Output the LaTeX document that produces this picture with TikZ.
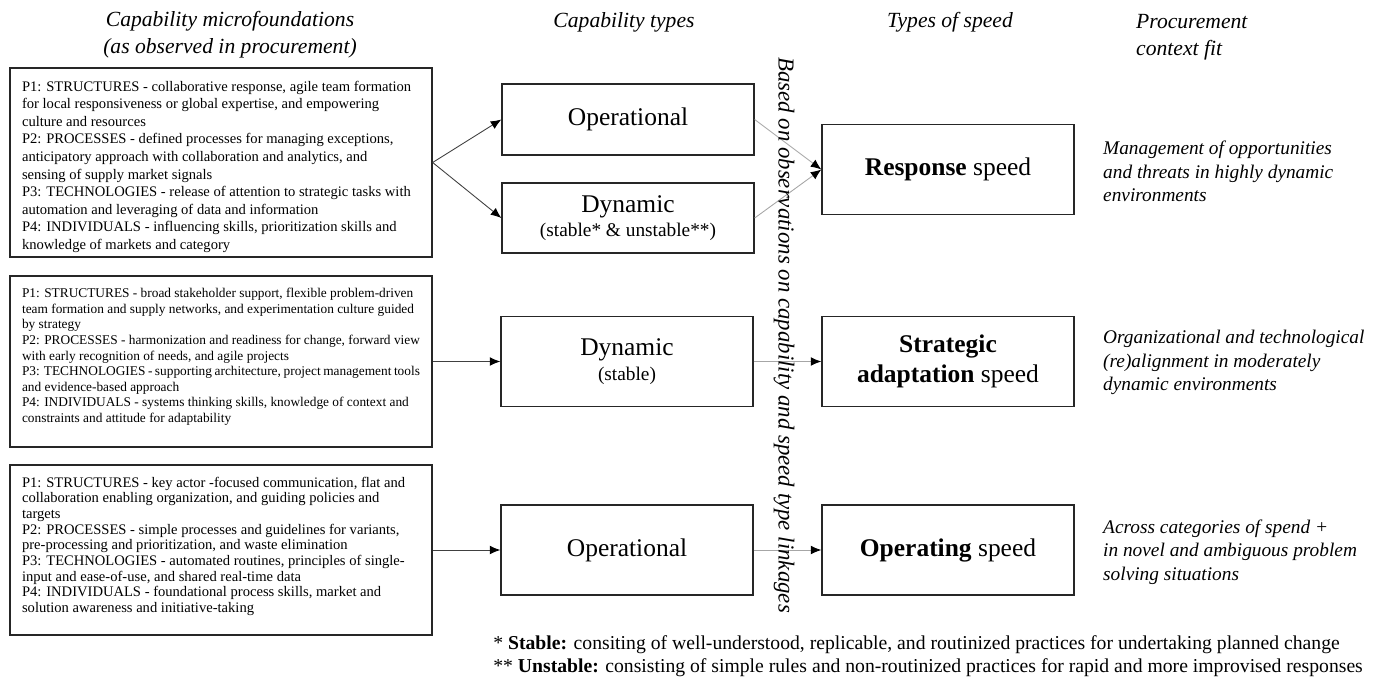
\documentclass[tikz,border=0pt]{standalone}
\usepackage{fontspec}
\setmainfont{Liberation Serif}
\usetikzlibrary{arrows.meta}

\tikzset{
caja/.style={draw=black!85,line width=0.8pt,minimum width=5.04cm,minimum height=1.8cm,align=center,font=\fontsize{14.5}{17}\selectfont},
marco/.style={draw=black!85,line width=0.8pt,inner xsep=0.24cm,inner ysep=0.16cm},
titulo/.style={font=\fontsize{12.3}{15.5}\selectfont\itshape,align=center},
contexto/.style={font=\fontsize{11}{13.3}\selectfont\itshape,align=left,anchor=west},
flecha/.style={draw=black!75,line width=0.5pt,-{Latex[length=6pt,width=5pt,color=black]}},
flechagris/.style={draw=black!35,line width=0.5pt,-{Latex[length=6pt,width=5pt,color=black]}},
nota/.style={font=\fontsize{11.2}{13}\selectfont,anchor=west,inner sep=0pt}
}

\begin{document}
\begin{tikzpicture}[x=0.02cm,y=-0.02cm]
    \useasboundingbox (0,0) rectangle (1387,680);

    \node[titulo] (tmicro) at (230,35) {Capability microfoundations\\(as observed in procurement)};
    \node[titulo] (ttipos) at (624,22) {Capability types};
    \node[titulo] (tvel) at (950,22) {Types of speed};
    \node[titulo,align=left,anchor=west] (tcont) at (1130,37) {Procurement\\context fit};

    \node[marco] (mf1) at (221,162.5) {\parbox[c][3.46cm][t]{7.96cm}{\fontsize{8.3}{10}\selectfont\vspace*{2.8pt}
    P1: STRUCTURES - collaborative response, agile team formation\\
    for local responsiveness or global expertise, and empowering\\
    culture and resources\\
    P2: PROCESSES - defined processes for managing exceptions,\\
    anticipatory approach with collaboration and analytics, and\\
    sensing of supply market signals\\
    P3: TECHNOLOGIES - release of attention to strategic tasks with\\
    automation and leveraging of data and information\\
    P4: INDIVIDUALS - influencing skills, prioritization skills and\\
    knowledge of markets and category}};
    \node[marco] (mf2) at (221,361.5) {\parbox[c][3.1cm][t]{7.96cm}{\fontsize{7.6}{8.9}\selectfont\vspace*{2.3pt}
    P1: STRUCTURES - broad stakeholder support, flexible problem-driven\\
    team formation and supply networks, and experimentation culture guided\\
    by strategy\\
    P2: PROCESSES - harmonization and readiness for change, forward view\\
    with early recognition of needs, and agile projects\\
    P3: TECHNOLOGIES - supporting architecture, project management tools\\
    and evidence-based approach\\
    P4: INDIVIDUALS - systems thinking skills, knowledge of context and\\
    constraints and attitude for adaptability}};
    \node[marco] (mf3) at (221,550) {\parbox[c][3.08cm][t]{7.96cm}{\fontsize{8.3}{8.9}\selectfont\vspace*{2.3pt}
    P1: STRUCTURES - key actor -focused communication, flat and\\
    collaboration enabling organization, and guiding policies and\\
    targets\\
    P2: PROCESSES - simple processes and guidelines for variants,\\
    pre-processing and prioritization, and waste elimination\\
    P3: TECHNOLOGIES - automated routines, principles of single-\\
    input and ease-of-use, and shared real-time data\\
    P4: INDIVIDUALS - foundational process skills, market and\\
    solution awareness and initiative-taking}};

    \node[caja,minimum height=1.42cm] (op1) at (628,119.5) {Operational};
    \node[caja,minimum height=1.4cm] (dyn1) at (628,218) {Dynamic\\[-3pt]{\fontsize{11}{13}\selectfont(stable* \& unstable**)}};
    \node[caja] (dyn2) at (627,361.5) {Dynamic\\[-3pt]{\fontsize{11}{13}\selectfont(stable)}};
    \node[caja] (op2) at (627,550) {Operational};

    \node[caja] (resp) at (948,169.5) {\textbf{Response} speed};
    \node[caja] (strat) at (948,361.5) {\textbf{Strategic}\\\textbf{adaptation} speed};
    \node[caja] (oper) at (948,550) {\textbf{Operating} speed};

    \node[contexto] (ctx1) at (1097,171.5) {Management of opportunities\\and threats in highly dynamic\\environments};
    \node[contexto] (ctx2) at (1097,362.5) {Organizational and technological\\(re)alignment in moderately\\dynamic environments};
    \node[contexto] (ctx3) at (1097,552) {Across categories of spend +\\in novel and ambiguous problem\\solving situations};

    \draw[flecha] (mf1.east) -- (op1.west);
    \draw[flecha] (mf1.east) -- (dyn1.west);
    \draw[flecha] (mf2.east) -- (dyn2.west);
    \draw[flecha] (mf3.east) -- (op2.west);
    \draw[flechagris] (op1.east) -- (resp.west);
    \draw[flechagris] (dyn1.east) -- (resp.west);
    \draw[flechagris] (dyn2.east) -- (strat.west);
    \draw[flechagris] (op2.east) -- (oper.west);

    \node[rotate=-90,font=\fontsize{13}{15}\selectfont\itshape] (vinc) at (784,335) {Based on observations on capability and speed type linkages};

    \node[nota] (nota1) at (493,645) {* \textbf{Stable:} consiting of well-understood, replicable, and routinized practices for undertaking planned change};
    \node[nota] (nota2) at (493,668) {** \textbf{Unstable:} consisting of simple rules and non-routinized practices for rapid and more improvised responses};
\end{tikzpicture}
\end{document}
